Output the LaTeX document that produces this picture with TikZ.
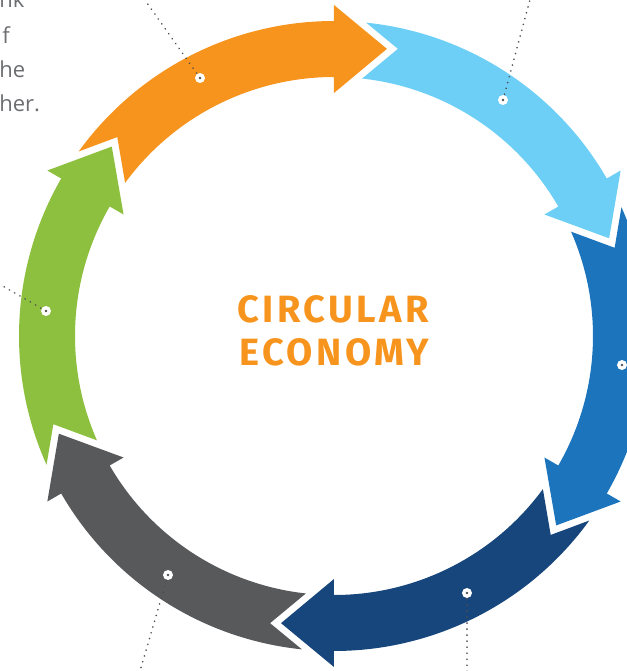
\documentclass[tikz,border=0pt]{standalone}
\usepackage{fontspec}
\setmainfont{Open Sans}
\newfontfamily\titlefont[LetterSpace=9]{Fira Sans}
\usetikzlibrary{calc}

\definecolor{ceOrange}{HTML}{F7941D}
\definecolor{ceSky}{HTML}{6DCFF6}
\definecolor{ceBlue}{HTML}{1C75BC}
\definecolor{ceNavy}{HTML}{17467C}
\definecolor{ceGrey}{HTML}{58595B}
\definecolor{ceGreen}{HTML}{8DC03F}
\definecolor{ceText}{HTML}{6D6E71}
\definecolor{ceLeader}{HTML}{4D4D4F}

\tikzset{
	leader/.style={ceLeader, line width=0.9pt, dash pattern=on 0.01pt off 3pt, line cap=round},
	hub/.style={circle, fill=white, inner sep=0pt, minimum size=5pt},
	title/.style={text=ceOrange, inner sep=0pt, anchor=base, font=\titlefont\bfseries\fontsize{19}{19}\selectfont},
	blurb/.style={text=ceText, inner sep=0pt, anchor=base west, font=\fontsize{11}{13}\selectfont}
}

\begin{document}
\begin{tikzpicture}[x=0.5pt, y=0.5pt]
			%%%%% START %%%%%
			\useasboundingbox (-334,-335) rectangle (293,336);
			\clip (-334,-335) rectangle (293,336);
			
			% six arrows round the ring, clockwise
			\foreach \col [count=\k from 0] in {ceOrange,ceSky,ceBlue,ceNavy,ceGrey,ceGreen}{
				\pgfmathsetmacro\tip{79.55-60*\k}
				\pgfmathsetmacro\base{\tip+10.45}
				\pgfmathsetmacro\prev{\tip+60}
				\pgfmathsetmacro\tailo{\prev+4.59}
				\pgfmathsetmacro\taili{\prev+4.21}
				\pgfmathsetmacro\notch{\prev-2.10}
				\fill[\col] (\tailo:315) arc[start angle=\tailo, end angle=\base, radius=315]
					-- (\base:331) -- (\tip:292) -- (\base:243) -- (\base:259)
					arc[start angle=\base, end angle=\taili, radius=259]
					-- (\notch:294.2) -- cycle;
			}
			
			\node[title] (circ) at (-1,14) {CIRCULAR};
			\node[title] (econ) at (0.5,-29) {ECONOMY};
			
			% cut-off text, top left
			\node[blurb] (lineA) at (-335,329) {nk};
			\node[blurb] (lineB) at (-332,293) {f};
			\node[blurb] (lineC) at (-335,259) {he};
			\node[blurb] (lineD) at (-335,225) {her.};
			
			% leader ends
			\coordinate (endOrange) at (-194,343);
			\coordinate (endSky) at (197,340);
			\coordinate (endBlue) at (300,-29);
			\coordinate (endNavy) at (133,-342);
			\coordinate (endGrey) at (-196,-342);
			\coordinate (endGreen) at (-340,55);
			
			\coordinate (atOrange) at (-134,258);
			\coordinate (atSky) at (169,236);
			\coordinate (atBlue) at (288,-29);
			\coordinate (atNavy) at (133,-257);
			\coordinate (atGrey) at (-166,-239);
			\coordinate (atGreen) at (-288,25);
			
			\foreach \nm in {Orange,Sky,Blue,Navy,Grey,Green}{
				\draw[leader] (at\nm) -- (end\nm);
				\node[hub] (hub\nm) at (at\nm) {};
				\fill[ceLeader] (hub\nm) circle (1.4);
			}
			%%%%% END %%%%%
\end{tikzpicture}
\end{document}
